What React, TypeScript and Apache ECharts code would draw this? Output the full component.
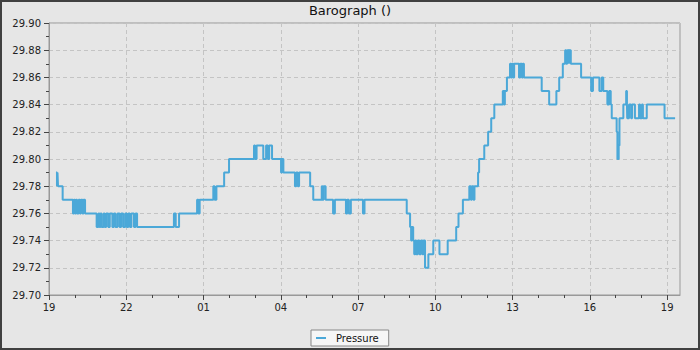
import React, { useEffect, useRef } from "react";
import * as echarts from "echarts";

const startHour = 19;
const hours = [
  0.27, 0.31, 0.33, 0.35, 0.53, 0.93, 0.97, 1.01, 1.05, 1.09, 1.15, 1.2, 1.24, 1.3, 1.34, 1.4,
  1.85, 1.92, 1.96, 2.0, 2.04, 2.12, 2.16, 2.22, 2.3, 2.36, 2.46, 2.52, 2.58, 2.66, 2.74, 2.8,
  2.88, 2.96, 3.02, 3.08, 3.14, 3.2, 3.3, 3.36, 3.42, 4.85, 4.92, 5.05, 5.75, 5.8, 5.85, 6.38,
  6.43, 6.5, 6.8, 6.99, 7.96, 8.0, 8.06, 8.32, 8.43, 8.5, 8.55, 8.66, 9.01, 9.05, 9.1, 9.55,
  9.6, 9.66, 9.71, 10.14, 10.26, 10.59, 10.62, 10.66, 10.74, 11.03, 11.1, 11.53, 11.58, 11.64,
  11.72, 12.19, 12.25, 13.89, 14.02, 14.06, 14.1, 14.14, 14.18, 14.22, 14.26, 14.32, 14.38,
  14.44, 14.5, 14.54, 14.6, 14.73, 14.92, 15.16, 15.48, 15.81, 15.9, 16.07, 16.32, 16.38,
  16.42, 16.48, 16.52, 16.66, 16.7, 16.9, 17.05, 17.17, 17.29, 17.62, 17.66, 17.7, 17.78,
  17.9, 17.94, 17.98, 18.02, 18.06, 18.25, 18.3, 18.36, 18.4, 18.44, 19.13, 19.42, 19.7,
  19.81, 19.95, 20.04, 20.08, 20.12, 20.18, 20.2, 20.26, 20.66, 21.05, 21.12, 21.37, 21.46,
  21.52, 21.68, 21.75, 21.81, 21.85, 22.04, 22.07, 22.12, 22.15, 22.3, 22.41, 22.44, 22.45,
  22.52, 22.6, 22.64, 22.75, 22.91, 22.95, 23.02, 23.06, 23.21, 23.9, 24.31,
];
const pressure = [
  29.79, 29.78, 29.79, 29.78, 29.77, 29.76, 29.77, 29.76, 29.77, 29.76, 29.77, 29.76, 29.77, 29.76, 29.77, 29.76,
  29.75, 29.76, 29.75, 29.76, 29.75, 29.76, 29.75, 29.76, 29.75, 29.76, 29.75, 29.76, 29.75, 29.76, 29.75, 29.76,
  29.75, 29.76, 29.75, 29.76, 29.75, 29.76, 29.75, 29.76, 29.75, 29.76, 29.75, 29.76, 29.77, 29.76, 29.77, 29.78,
  29.77, 29.78, 29.79, 29.8, 29.81, 29.8, 29.81, 29.8, 29.81, 29.8, 29.81, 29.8, 29.79, 29.8, 29.79, 29.78,
  29.79, 29.78, 29.79, 29.78, 29.77, 29.78, 29.77, 29.78, 29.77, 29.76, 29.77, 29.76, 29.77, 29.76,
  29.77, 29.76, 29.77, 29.76, 29.75, 29.74, 29.75, 29.74, 29.73, 29.74, 29.73, 29.74, 29.73,
  29.74, 29.73, 29.74, 29.72, 29.73, 29.74, 29.73, 29.74, 29.75, 29.76, 29.77, 29.78, 29.77,
  29.78, 29.77, 29.78, 29.79, 29.8, 29.81, 29.82, 29.83, 29.84, 29.85, 29.84, 29.85, 29.86,
  29.87, 29.86, 29.87, 29.86, 29.87, 29.86, 29.87, 29.86, 29.87, 29.86, 29.85, 29.84, 29.85,
  29.86, 29.87, 29.88, 29.87, 29.88, 29.87, 29.88, 29.87, 29.86, 29.85, 29.86, 29.85, 29.86,
  29.85, 29.84, 29.85, 29.84, 29.83, 29.82, 29.8, 29.81, 29.83, 29.84, 29.85, 29.84, 29.83,
  29.84, 29.83, 29.84, 29.83, 29.84, 29.83, 29.84, 29.83, 29.84, 29.83, 29.83,
];
const majorHours = [0, 3, 6, 9, 12, 15, 18, 21, 24];
const minorHours = [1, 2, 4, 5, 7, 8, 10, 11, 13, 14, 16, 17, 19, 20, 22, 23];

const FONT = "DejaVu Sans";

export default function App() {
  const ref = useRef<HTMLDivElement>(null);
  useEffect(() => {
    document.body.style.margin = "0";
    const chart = echarts.init(ref.current!, null, { renderer: "svg" });
    const hourLabel = (v: number) => String((startHour + Math.round(v)) % 24).padStart(2, "0");
    chart.setOption({
      animation: false,
      backgroundColor: "#e6e6e6",
      title: {
        text: "Barograph ()",
        left: "center",
        top: 2,
        padding: 0,
        textStyle: { fontFamily: FONT, fontSize: 13, fontWeight: "normal", color: "#111" },
      },
      legend: {
        data: [{ name: "Pressure", icon: "rect" }],
        left: 309,
        top: 328,
        backgroundColor: "#f6f6f6",
        borderColor: "#888",
        borderWidth: 1,
        borderRadius: 0,
        padding: [3, 10, 3, 5],
        itemWidth: 10,
        itemHeight: 2,
        textStyle: { fontFamily: FONT, fontSize: 10, color: "#111", padding: [0, 0, 0, 5] },
      },
      grid: {
        left: 47,
        right: 18,
        top: 21,
        bottom: 53,
        show: true,
        borderColor: "#999",
        borderWidth: 1,
        backgroundColor: "transparent",
      },
      xAxis: [
        {
          type: "value",
          min: 0,
          max: 24.5,
          interval: 3,
          axisLine: { show: true, lineStyle: { color: "#999" } },
          axisTick: { show: true, length: 5, customValues: majorHours, lineStyle: { color: "#444" } },
          axisLabel: {
            customValues: majorHours,
            formatter: hourLabel,
            fontFamily: FONT,
            fontSize: 10,
            color: "#222",
            margin: 7,
          },
          splitLine: { show: true, lineStyle: { color: "#c4c4c4", type: [4, 3] } },
        },
        {
          type: "value",
          min: 0,
          max: 24.5,
          interval: 1,
          position: "bottom",
          axisLine: { show: false },
          axisTick: { show: true, length: 3, customValues: minorHours, lineStyle: { color: "#444" } },
          axisLabel: { show: false },
          splitLine: { show: false },
        },
      ],
      yAxis: {
        type: "value",
        min: 29.7,
        max: 29.9,
        interval: 0.02,
        axisLine: { show: true, lineStyle: { color: "#999" } },
        axisTick: { show: true, length: 5, lineStyle: { color: "#444" } },
        minorTick: { show: true, splitNumber: 2, length: 3, lineStyle: { color: "#444" } },
        axisLabel: {
          formatter: (v: number) => v.toFixed(2),
          fontFamily: FONT,
          fontSize: 10,
          color: "#222",
          margin: 8,
        },
        splitLine: { show: true, lineStyle: { color: "#c4c4c4", type: [4, 3] } },
      },
      series: [
        {
          name: "Pressure",
          type: "line",
          step: "end",
          xAxisIndex: 0,
          symbol: "none",
          lineStyle: { color: "#4ba8d8", width: 2 },
          itemStyle: { color: "#4ba8d8" },
          data: hours.map((h, i) => [h, pressure[i]]),
        },
      ],
    });
    return () => chart.dispose();
  }, []);
  return (
    <div
      style={{
        width: 700,
        height: 350,
        boxSizing: "border-box",
        border: "2px solid #404040",
        background: "#e6e6e6",
      }}
    >
      <div ref={ref} style={{ width: 696, height: 346 }} />
    </div>
  );
}
